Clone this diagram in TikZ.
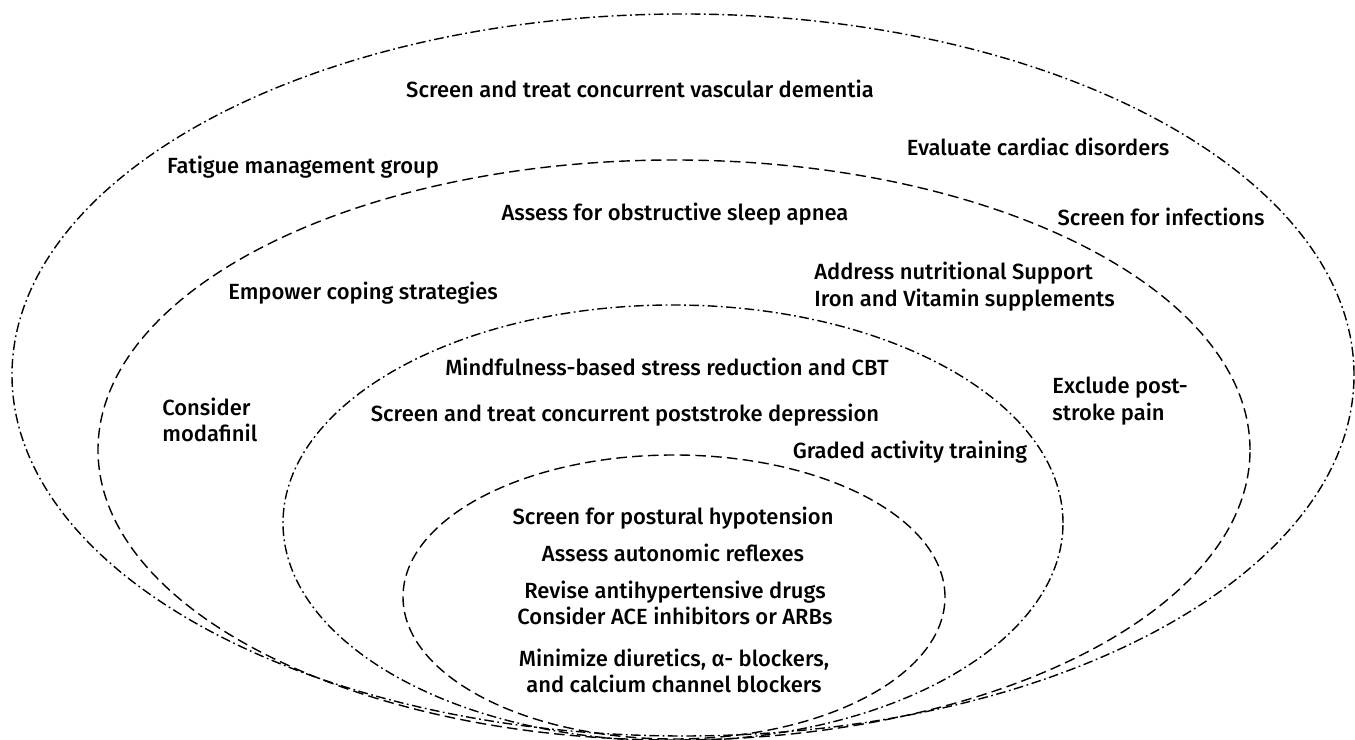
\documentclass[tikz,border=0pt]{standalone}
\usepackage{fontspec}
\setmainfont{Fira Sans}[UprightFont=* Medium]
\usetikzlibrary{positioning}

\begin{document}
\begin{tikzpicture}[
    x=0.02cm, y=0.02cm,
    ring/.style={line width=0.8pt, dash pattern=on 5.5pt off 2pt on 1pt off 2pt},
    band/.style={line width=0.8pt, dash pattern=on 6pt off 3pt},
    txt/.style={inner sep=0pt, align=center, font=\fontsize{12.5}{15.2}\selectfont}
]
\useasboundingbox (0,0) rectangle (1355,740);
% nested rings
\draw[ring] (683,365) ellipse [x radius=671, y radius=361];
\draw[band] (674,290) ellipse [x radius=576, y radius=290];
\draw[ring] (673,217) ellipse [x radius=390, y radius=218];
\draw[band] (674,143) ellipse [x radius=271, y radius=142];

% outer ring
\node[txt] (dementia) at (640,651) {Screen and treat concurrent vascular dementia};
\node[txt] (cardiac) at (1038,593) {Evaluate cardiac disorders};
\node[txt] (group) at (303,573) {Fatigue management group};
\node[txt] (infect) at (1161,523) {Screen for infections};
% second ring
\node[txt] (apnea) at (675,526) {Assess for obstructive sleep apnea};
\node[txt, anchor=west, align=left] (nutrition) at (814,453) {Address nutritional Support\\Iron and Vitamin supplements};
\node[txt, anchor=west] (coping) at (228,447) {Empower coping strategies};
\node[txt, anchor=west, align=left] (modafinil) at (162,320) {Consider\\modafinil};
\node[txt, anchor=west, align=left] (pain) at (1052,339) {Exclude post-\\stroke pain};
% third ring
\node[txt] (mindful) at (667,373) {Mindfulness-based stress reduction and CBT};
\node[txt] (depress) at (625,325) {Screen and treat concurrent poststroke depression};
\node[txt] (graded) at (910,288) {Graded activity training};
% inner ring
\node[txt] (postural) at (673,222) {Screen for postural hypotension};
\node[txt] (reflex) at (673,187) {Assess autonomic reflexes};
\node[txt] (revise) at (675,137) {Revise antihypertensive drugs\\Consider ACE inhibitors or ARBs};
\node[txt] (minimize) at (674,69) {Minimize diuretics, α- blockers,\\and calcium channel blockers};
\end{tikzpicture}
\end{document}
